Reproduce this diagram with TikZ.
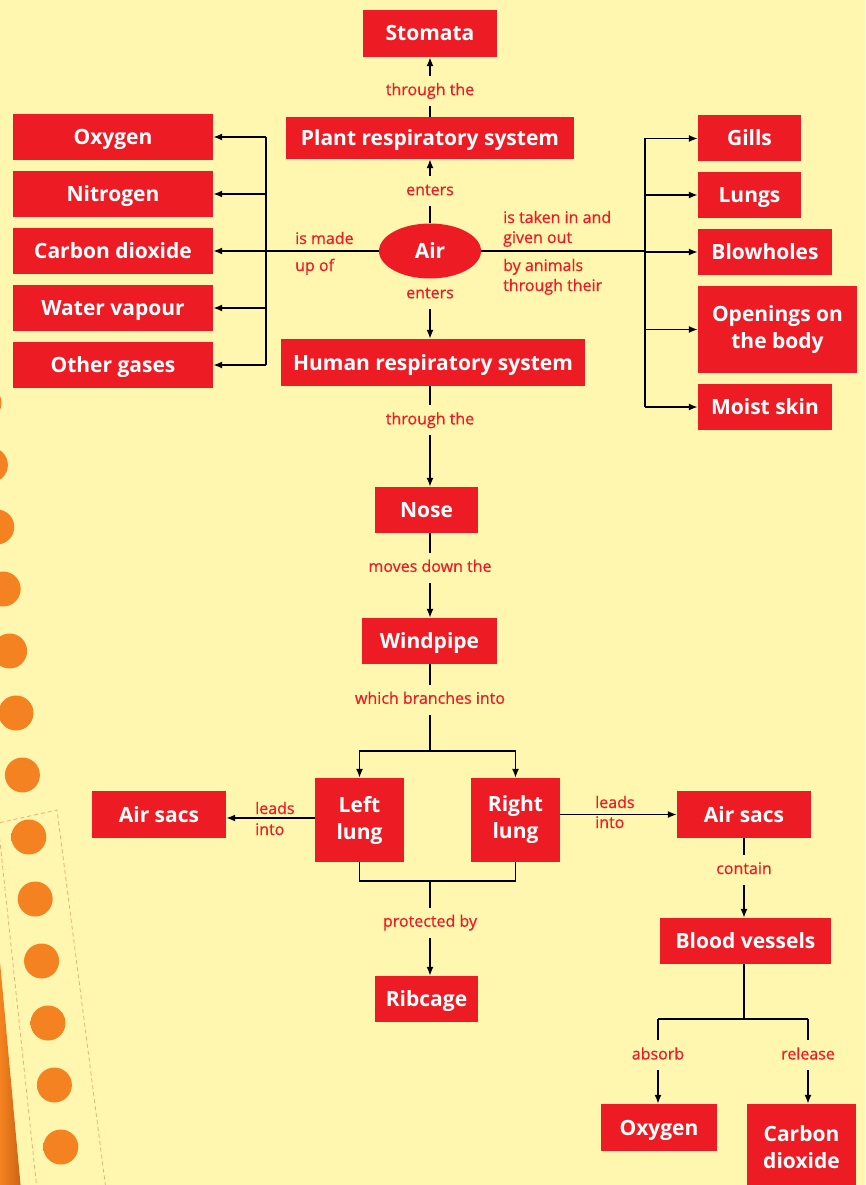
\documentclass[tikz,border=0pt]{standalone}
\usepackage{fontspec}
\setmainfont{Open Sans}
\newfontfamily\notefont[FakeBold=0.6]{Open Sans}
\usetikzlibrary{arrows.meta,positioning,shapes.geometric}

\definecolor{pageyellow}{RGB}{255,247,176}
\definecolor{mapred}{RGB}{237,28,36}
\definecolor{beadorange}{RGB}{244,130,32}
\definecolor{beaddark}{RGB}{204,100,20}
\definecolor{seamline}{RGB}{230,178,112}

% orange beads of the binding
\pgfdeclareradialshading{bead}{\pgfpoint{0bp}{0bp}}{%
  color(0bp)=(beadorange); color(32bp)=(beadorange); color(50bp)=(beaddark); color(60bp)=(beaddark)}

\tikzset{
  tile/.style={fill=mapred, text=white, font=\fontsize{21}{27}\selectfont\bfseries,
    align=center, inner sep=0pt, minimum height=46pt},
  box/.style={tile, text height=15pt, text depth=0pt},
  twobox/.style={tile},
  lbl/.style={text=mapred, font=\notefont\fontsize{16}{20}\selectfont, fill=pageyellow,
    inner xsep=2pt, inner ysep=7pt, text height=12pt, text depth=4pt},
  side/.style={text=mapred, font=\notefont\fontsize{16}{20}\selectfont, inner sep=0pt, anchor=base west},
  wire/.style={line width=1.5pt, black},
  arr/.style={wire, -{Latex[length=9pt,width=7pt]}},
}

\begin{document}
\begin{tikzpicture}[x=1pt,y=-1pt]
% page
\fill[pageyellow] (0,0) rectangle (865,1185);
\clip (0,0) rectangle (865,1185);

% binding on the left edge
\shade[left color=beadorange, right color=beaddark] (0,962) -- (21,1190) -- (0,1190) -- cycle;
\draw[seamline, line width=0.8pt, dash pattern=on 4pt off 3pt]
  (37,1190) -- (-2,823) -- (57,810) -- (106,1190);
\foreach \i in {0,...,12}{
  \shade[shading=bead] ({-16+6.4*\i},{403+62*\i}) circle[radius=17.5];
}

% main column
\node[box, minimum width=134pt, minimum height=47pt] (stomata) at (430,33.5) {Stomata};
\node[box, minimum width=288pt, minimum height=42pt] (plant) at (430,138) {Plant respiratory system};
\node[ellipse, fill=mapred, text=white, font=\fontsize{21}{27}\selectfont\bfseries,
  minimum width=102pt, minimum height=55pt, inner sep=0pt, text height=15pt, text depth=0pt] (air) at (430,251) {Air};
\node[box, minimum width=304pt, minimum height=47pt] (human) at (433,362.5) {Human respiratory system};
\node[box, minimum width=103pt] (nose) at (426.5,510) {Nose};
\node[box, minimum width=135pt] (windpipe) at (429.5,641) {Windpipe};
\node[twobox, minimum width=89pt, minimum height=84pt] (leftlung) at (359.5,820) {Left\\lung};
\node[twobox, minimum width=89pt, minimum height=84pt] (rightlung) at (515.5,820) {Right\\lung};
\node[box, minimum width=134pt, minimum height=47pt] (sacsL) at (159,814.5) {Air sacs};
\node[box, minimum width=134pt, minimum height=47pt] (sacsR) at (744,814.5) {Air sacs};
\node[box, minimum width=171pt] (blood) at (745.5,941) {Blood vessels};
\node[box, minimum width=103pt] (ribcage) at (426.5,999) {Ribcage};
\node[box, minimum width=116pt, minimum height=47pt] (oxyout) at (659,1127.5) {Oxygen};
\node[twobox, minimum width=109pt, minimum height=86pt] (co2out) at (801.5,1147) {Carbon\\dioxide};

% gases (left)
\foreach \y/\name/\txt in {137/oxygen/Oxygen, 194/nitrogen/Nitrogen, 251/carbon/Carbon dioxide,
  308/water/Water vapour, 365/others/Other gases}{
  \node[box, minimum width=200pt] (\name) at (113,\y) {\txt};
}

% animal organs (right)
\node[box, minimum width=103pt] (gills) at (749.5,138.5) {Gills};
\node[box, minimum width=103pt] (lungs) at (749.5,195) {Lungs};
\node[box, minimum width=134pt] (blowholes) at (765,252) {Blowholes};
\node[twobox, minimum width=159pt, minimum height=87pt] (openings) at (777.5,329.5) {Openings on\\the body};
\node[box, minimum width=134pt] (moist) at (765,407) {Moist skin};

% bus lines and junctions
\coordinate (lbus) at (266,251);
\coordinate (rbus) at (645,251);
\coordinate (split) at (430,751);
\coordinate (guard) at (430,881);
\coordinate (forkL) at (658,1019);
\coordinate (forkR) at (808,1019);

% air is made up of
\draw[arr] (air) -- (carbon);
\draw[wire] (oxygen -| lbus) -- (others -| lbus);
\foreach \n in {oxygen,nitrogen,water,others}{
  \draw[arr] (\n -| lbus) -- (\n);
}
\node[side] (madeA) at (295,244) {is made};
\node[side] (madeB) at (295,271) {up of};

% air taken in by animals
\draw[wire] (air) -- (rbus);
\draw[wire] (gills -| rbus) -- (moist -| rbus);
\foreach \n in {gills,lungs,blowholes,openings,moist}{
  \draw[arr] (\n -| rbus) -- (\n);
}
\node[side] (takenA) at (503,223) {is taken in and};
\node[side] (takenB) at (503,243) {given out};
\node[side] (takenC) at (503,271) {by animals};
\node[side] (takenD) at (503,291) {through their};

% plant branch
\draw[arr] (air) -- node[lbl] (entersP) {enters} (plant);
\draw[arr] (plant) -- node[lbl, pos=0.43] (throughP) {through the} (stomata);

% human branch
\draw[arr] (air) -- node[lbl, pos=0.26] (entersH) {enters} (air |- human.north);
\draw[arr] (human.south -| air) -- node[lbl, pos=0.34] (throughH) {through the} (nose.north -| air);
\draw[arr] (nose.south -| air) -- node[lbl, pos=0.41] (moves) {moves down the} (windpipe.north -| air);
\draw[wire] (windpipe.south -| air) -- node[lbl, pos=0.41] (branches) {which branches into} (split);
\draw[arr] (split) -| (leftlung);
\draw[arr] (split) -| (rightlung);

% lungs
\draw[wire] (leftlung) |- (guard) -| (rightlung);
\draw[arr] (guard) -- node[lbl, pos=0.44] (protected) {protected by} (ribcage.north -| guard);
\draw[arr] (leftlung.west |- 0,818) -- (sacsL.east |- 0,818);
\node[side] (leadsLA) at (255,814) {leads};
\node[side] (leadsLB) at (255,835) {into};
\draw[arr] (rightlung.east |- sacsR) -- (sacsR);
\node[side] (leadsRA) at (595,808) {leads};
\node[side] (leadsRB) at (595,828) {into};

% air sacs and blood
\draw[arr] (sacsR) -- node[lbl, pos=0.4] (contain) {contain} (sacsR |- blood.north);
\draw[wire] (blood.south -| sacsR) -- (sacsR |- forkL);
\draw[wire] (forkL) -- (forkR);
\draw[arr] (forkL) -- node[lbl, pos=0.43] (absorb) {absorb} (forkL |- oxyout.north);
\draw[arr] (forkR) -- node[lbl, pos=0.43] (release) {release} (forkR |- co2out.north);
\end{tikzpicture}
\end{document}
